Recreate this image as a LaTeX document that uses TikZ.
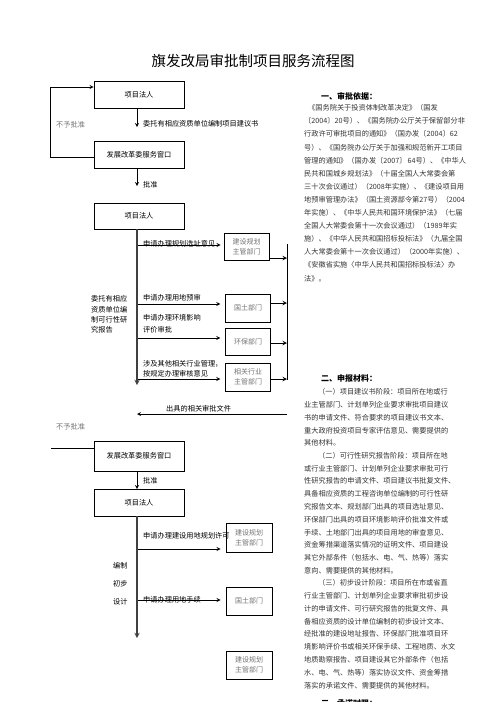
\documentclass[tikz,border=0pt]{standalone}
\usepackage{fontspec}
\setmainfont{Noto Sans CJK SC}
\XeTeXlinebreaklocale "zh"
\XeTeXlinebreakskip=0pt plus 2pt minus 0.4pt
% justified lines of the right column
\newcommand{\fl}[1]{\hbox to 155pt{#1}}
\newcommand{\il}[1]{\hbox to 155pt{\hskip 14pt #1}}
\newcommand{\el}[1]{#1}
\tikzset{
  box/.style={draw, line width=0.9pt, minimum width=90pt, minimum height=27pt, inner sep=0pt, font=\fontsize{7.2}{9}\selectfont},
  dept/.style={draw, line width=0.9pt, minimum width=44.5pt, minimum height=27.5pt, inner sep=0pt, align=center, text=black!55, font=\fontsize{7}{10}\selectfont},
  lbl/.style={anchor=west, inner sep=0pt, align=left, font=\fontsize{7.2}{10}\selectfont},
  note/.style={anchor=west, inner sep=0pt, text=black!55, font=\fontsize{7.2}{9}\selectfont},
  para/.style={anchor=west, inner sep=0pt, text=black!80, font=\fontsize{7.2}{9}\selectfont},
  head/.style={anchor=west, inner sep=0pt, font=\fontsize{8}{9}\selectfont\bfseries},
  flow/.style={->, line width=0.8pt},
  trunk/.style={->, line width=1.3pt, draw=black!75},
}
\begin{document}
\begin{tikzpicture}[x=1pt,y=-1pt,>=stealth]
  \useasboundingbox (0,0) rectangle (496,702);
  \node[font=\fontsize{14.5}{16}\selectfont] (title) at (253,61) {旗发改局审批制项目服务流程图};

  % 项目建议书
  \node[box] (fr1) at (139,94.5) {项目法人};
  \node[box] (win1) at (139,154.5) {发展改革委服务窗口};
  \node[box,minimum height=26pt] (fr2) at (139,216) {项目法人};
  \coordinate (ask) at (137,127);
  \draw[flow] (fr1.south -| ask) -- (ask);
  \node[lbl] at (143,124) {委托有相应资质单位编制项目建议书};
  \coordinate (ok1) at (137,186);
  \draw[flow] (win1.south -| ok1) -- (ok1);
  \node[lbl] at (143,185) {批准};
  \draw[flow] ([yshift=-2.5pt]win1.west) -- ++(-43,0) |- ([yshift=7.5pt]fr1.west);
  \node[note] at (56,125) {不予批准};

  % 可行性研究报告
  \coordinate (end1) at (137,385);
  \draw[trunk] (fr2.south -| end1) -- (end1);
  \node[dept,minimum width=45pt,minimum height=27pt] (ghA) at (246.5,246.5) {建设规划\\主管部门};
  \node[dept,minimum height=28pt] (gtA) at (248,308) {国土部门};
  \node[dept,minimum height=27pt] (hb) at (248,341.5) {环保部门};
  \node[dept,minimum height=28pt] (hy) at (248,377) {相关行业\\主管部门};
  \coordinate (a1) at (138,245);
  \coordinate (a2) at (138,304);
  \coordinate (a3) at (138,338);
  \coordinate (a4) at (138,379);
  \draw[flow,shorten >=3pt] (a1) -- (a1 -| ghA.west);
  \draw[flow,shorten >=5pt] (a2) -- (a2 -| gtA.west);
  \draw[flow,shorten >=5pt] (a3) -- (a3 -| hb.west);
  \draw[flow,shorten >=5pt] (a4) -- (a4 -| hy.west);
  \node[lbl] at (143,244) {申请办理规划选址意见};
  \node[lbl] at (143,298) {申请办理用地预审};
  \node[lbl,font=\fontsize{7.2}{12}\selectfont] at (143,324) {申请办理环境影响\\评价审批};
  \node[lbl] at (143,369) {涉及其他相关行业管理，\\按规定办理审核意见};
  \node[lbl,font=\fontsize{7.2}{10.3}\selectfont] at (91,314.5) {委托有相应\\资质单位编\\制可行性研\\究报告};
  \coordinate (busT) at (287,244);
  \coordinate (busB) at (287,380);
  \draw[line width=0.9pt] (busT) -- (busB);
  \foreach \n/\s in {ghA/-11.5, gtA/5, hb/-1.5, hy/-2}{
    \coordinate (o) at ([yshift=\s pt]\n.east);
    \draw[flow,line width=1pt] (o) -- (o -| busT);
  }
  \coordinate (ret) at (287,414);
  \draw[flow] (ret) -- (ret -| end1);
  \node[lbl] at (166,409) {出具的相关审批文件};

  % 初步设计
  \node[box,minimum height=30pt] (win2) at (139,456) {发展改革委服务窗口};
  \node[box] (fr3) at (139,502.5) {项目法人};
  \node[note] at (56,427) {不予批准};
  \draw ([yshift=8pt]win2.west) -- ++(-43,0);
  \coordinate (ok2) at (137,489);
  \draw[flow] (win2.south -| ok2) -- (ok2);
  \node[lbl] at (143,481) {批准};
  \coordinate (end2) at (137,638);
  \draw[trunk] (fr3.south -| end2) -- (end2);
  \node[dept,minimum width=46pt,minimum height=29pt] (ghB) at (249,537.5) {建设规划\\主管部门};
  \node[dept,minimum width=46pt,minimum height=28pt] (gtB) at (249,601) {国土部门};
  \node[dept,minimum width=46pt,minimum height=28pt] (ghC) at (249,665) {建设规划\\主管部门};
  \coordinate (c1) at (138,549);
  \coordinate (c2) at (138,600);
  \draw[flow,shorten >=5pt] (c1) -- (c1 -| ghB.west);
  \draw[flow,shorten >=5pt] (c2) -- (c2 -| gtB.west);
  \node[lbl] at (143,536) {申请办理建设用地规划许可};
  \node[lbl] at (143,600) {申请办理用地手续};
  \node[lbl,font=\fontsize{7.2}{18}\selectfont] at (113,584) {编制\\初步\\设计};

  % 右栏文字
  \node[head] at (321,96) {一、审批依据：};
  \foreach \t [count=\i] in {
    \fl{\hskip 4pt 《国务院关于投资体制改革决定》（国发},
    \fl{〔2004〕20号）、《国务院办公厅关于保留部分非},
    \fl{行政许可审批项目的通知》（国办发〔2004〕62},
    \fl{号）、《国务院办公厅关于加强和规范新开工项目},
    \fl{管理的通知》（国办发〔2007〕 64号）、《中华人},
    \fl{民共和国城乡规划法》（十届全国人大常委会第},
    \fl{三十次会议通过）（2008年实施）、《建设项目用},
    \fl{地预审管理办法》（国土资源部令第27号）（2004},
    \fl{年实施）、《中华人民共和国环境保护法》（七届},
    \fl{全国人大常委会第十一次会议通过）（1989年实},
    \fl{施）、《中华人民共和国招标投标法》（九届全国},
    \fl{人大常委会第十一次会议通过）（2000年实施）、},
    \fl{《安徽省实施〈中华人民共和国招标投标法〉办},
    \el{法》。}}
    \node[para] at (304,{108+13.1*(\i-1)}) {\t};

  \node[head] at (321,378) {二、申报材料：};
  \foreach \t [count=\i] in {
    \il{（一）项目建议书阶段：项目所在地或行},
    \fl{业主管部门、计划单列企业要求审批项目建议},
    \fl{书的申请文件、符合要求的项目建议书文本、},
    \fl{重大政府投资项目专家评估意见、需要提供的},
    \el{其他材料。},
    \il{（二）可行性研究报告阶段：项目所在地},
    \fl{或行业主管部门、计划单列企业要求审批可行},
    \fl{性研究报告的申请文件、项目建议书批复文件、},
    \fl{具备相应资质的工程咨询单位编制的可行性研},
    \fl{究报告文本、规划部门出具的项目选址意见、},
    \fl{环保部门出具的项目环境影响评价批准文件或},
    \fl{手续、土地部门出具的项目用地的审查意见、},
    \fl{资金筹措渠道落实情况的证明文件、项目建设},
    \fl{其它外部条件（包括水、电、气、热等）落实},
    \el{意向、需要提供的其他材料。},
    \il{（三）初步设计阶段：项目所在市或省直},
    \fl{行业主管部门、计划单列企业要求审批初步设},
    \fl{计的申请文件、可行研究报告的批复文件、具},
    \fl{备相应资质的设计单位编制的初步设计文本、},
    \fl{经批准的建设地址报告、环保部门批准项目环},
    \fl{境影响评价书或相关环保手续、工程地质、水文},
    \fl{地质勘察报告、项目建设其它外部条件（包括},
    \fl{水、电、气、热等）落实协议文件、资金筹措},
    \el{落实的承诺文件、需要提供的其他材料。}}
    \node[para] at (304,{392+12.75*(\i-1)}) {\t};
  \node[head] at (321,703) {三、承诺时限：};
\end{tikzpicture}
\end{document}
